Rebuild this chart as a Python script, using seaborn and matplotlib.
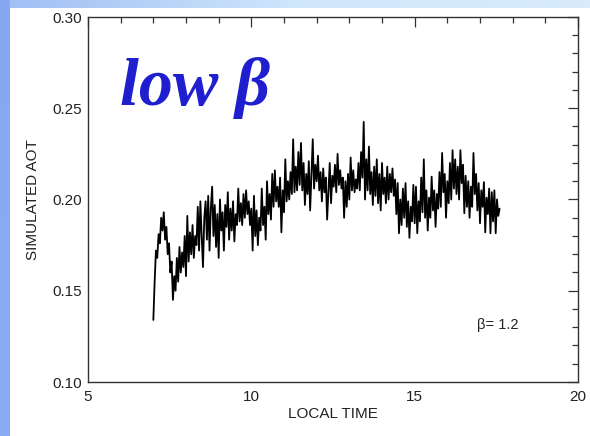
import numpy as np
import pandas as pd
import seaborn as sns
import matplotlib
matplotlib.use("Agg")
import matplotlib.pyplot as plt
from matplotlib.ticker import MultipleLocator

# Simulated aerosol optical thickness, sampled every 0.04 h from 07:00 to 17:36 local time
t_start, t_step = 7.00, 0.04
aot = [
    0.134, 0.155, 0.172, 0.168, 0.181, 0.176, 0.190, 0.183, 0.193, 0.178,
    0.185, 0.170, 0.176, 0.160, 0.166, 0.145, 0.158, 0.150, 0.168, 0.155,
    0.174, 0.160, 0.171, 0.163, 0.180, 0.158, 0.191, 0.166, 0.182, 0.170,
    0.186, 0.168, 0.180, 0.175, 0.196, 0.172, 0.199, 0.180, 0.163, 0.190,
    0.199, 0.178, 0.202, 0.172, 0.195, 0.207, 0.180, 0.197, 0.174, 0.192,
    0.168, 0.200, 0.183, 0.193, 0.172, 0.197, 0.185, 0.204, 0.178, 0.195,
    0.183, 0.199, 0.177, 0.192, 0.186, 0.206, 0.188, 0.198, 0.186, 0.203,
    0.190, 0.205, 0.192, 0.199, 0.186, 0.195, 0.172, 0.202, 0.180, 0.194,
    0.175, 0.190, 0.183, 0.206, 0.186, 0.196, 0.178, 0.210, 0.192, 0.203,
    0.189, 0.214, 0.196, 0.216, 0.199, 0.207, 0.196, 0.212, 0.182, 0.205,
    0.193, 0.222, 0.199, 0.210, 0.200, 0.215, 0.203, 0.233, 0.204, 0.218,
    0.205, 0.226, 0.208, 0.231, 0.205, 0.220, 0.197, 0.214, 0.203, 0.221,
    0.194, 0.213, 0.233, 0.206, 0.219, 0.210, 0.224, 0.205, 0.215, 0.199,
    0.217, 0.204, 0.212, 0.189, 0.205, 0.220, 0.198, 0.213, 0.207, 0.219,
    0.204, 0.225, 0.208, 0.216, 0.206, 0.212, 0.190, 0.210, 0.196, 0.214,
    0.200, 0.223, 0.205, 0.216, 0.204, 0.211, 0.206, 0.220, 0.205, 0.226,
    0.212, 0.2425, 0.200, 0.222, 0.205, 0.229, 0.203, 0.215, 0.197, 0.218,
    0.202, 0.222, 0.198, 0.214, 0.194, 0.220, 0.203, 0.212, 0.198, 0.218,
    0.200, 0.214, 0.204, 0.217, 0.202, 0.211, 0.192, 0.209, 0.1815, 0.200,
    0.186, 0.206, 0.190, 0.209, 0.185, 0.199, 0.179, 0.196, 0.188, 0.208,
    0.187, 0.207, 0.1815, 0.199, 0.188, 0.212, 0.193, 0.222, 0.190, 0.205,
    0.183, 0.201, 0.190, 0.2125, 0.194, 0.205, 0.185, 0.203, 0.195, 0.215,
    0.196, 0.2255, 0.204, 0.214, 0.190, 0.210, 0.198, 0.220, 0.200, 0.227,
    0.206, 0.222, 0.203, 0.218, 0.200, 0.227, 0.209, 0.219, 0.1925, 0.213,
    0.196, 0.210, 0.190, 0.207, 0.196, 0.2255, 0.203, 0.214, 0.194, 0.209,
    0.187, 0.205, 0.196, 0.2095, 0.182, 0.201, 0.192, 0.206, 0.1815, 0.204,
    0.188, 0.205, 0.1815, 0.200, 0.191, 0.195,
]
local_time = t_start + t_step * np.arange(len(aot))

x_ticks = [5, 10, 15, 20]
y_ticks = [0.10, 0.15, 0.20, 0.25, 0.30]
y_tick_labels = ["0.10", "0.15", "0.20", "0.25", "0.30"]

df = pd.DataFrame({"LOCAL TIME": local_time, "SIMULATED AOT": aot})

sns.set_style("white")
plt.rcParams["font.family"] = ["Liberation Sans", "DejaVu Sans"]

fig = plt.figure(figsize=(5.9, 4.36), dpi=100)
fig.patch.set_facecolor("white")

# Slide frame: blue bar on the left, pale bar along the top
top_bar = fig.add_axes([0, 1 - 8 / 436, 1, 8 / 436])
top_bar.imshow(np.linspace(0, 1, 256)[None, :], aspect="auto",
               cmap=matplotlib.colors.LinearSegmentedColormap.from_list(
                   "topbar", ["#9fbef4", "#cfe6fb", "#d8ecfc"]),
               extent=[0, 1, 0, 1])
top_bar.set_axis_off()
left_bar = fig.add_axes([0, 0, 10 / 590, 1])
left_bar.imshow(np.linspace(0, 1, 256)[:, None], aspect="auto",
                cmap=matplotlib.colors.LinearSegmentedColormap.from_list(
                    "leftbar", ["#86a8f2", "#8aacf2"]),
                extent=[0, 1, 0, 1])
left_bar.set_axis_off()

ax = fig.add_axes([88 / 590, 1 - 382 / 436, 490 / 590, 365 / 436])
sns.lineplot(data=df, x="LOCAL TIME", y="SIMULATED AOT", ax=ax,
             color="black", linewidth=1.3, estimator=None)

ax.set_xlim(5, 20)
ax.set_ylim(0.10, 0.30)
ax.set_xticks(x_ticks)
ax.set_yticks(y_ticks)
ax.set_yticklabels(y_tick_labels)
ax.xaxis.set_minor_locator(MultipleLocator(1))
ax.yaxis.set_minor_locator(MultipleLocator(0.01))
ax.tick_params(which="both", direction="in", top=True, right=True,
               color="#333333", width=0.9, labelsize=11, labelcolor="#222222")
ax.tick_params(which="major", length=7)
ax.tick_params(which="minor", length=4)
ax.tick_params(axis="x", which="major", pad=6)
ax.tick_params(axis="y", which="major", pad=4)
for s in ax.spines.values():
    s.set_color("#333333")
    s.set_linewidth(1.0)
ax.set_xlabel("LOCAL TIME", fontsize=11, color="#222222", labelpad=2)
ax.set_ylabel("SIMULATED AOT", fontsize=11, color="#222222", labelpad=9)

ax.text(16.92, 0.131, "β= 1.2", fontsize=10.5, color="#222222", va="center")

fig.text(120 / 590, 1 - 105 / 436, "low β", fontsize=49, color="#1f1fd0",
         fontweight="bold", fontstyle="italic",
         family=["Liberation Serif", "DejaVu Serif"])

fig.savefig("out.png", dpi=100)
